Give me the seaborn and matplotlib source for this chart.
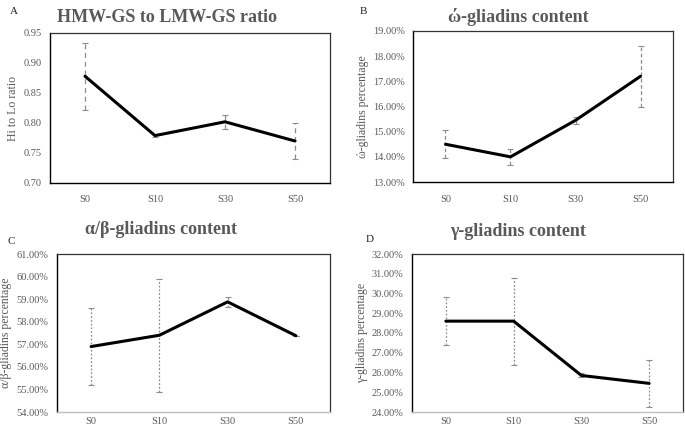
import numpy as np
import pandas as pd
import matplotlib
matplotlib.use("Agg")
import matplotlib.pyplot as plt
import seaborn as sns
from matplotlib.ticker import PercentFormatter

# Datos
muestras = ["S0", "S10", "S30", "S50"]

ratio_media = [0.878, 0.779, 0.802, 0.770]
ratio_err = [0.056, 0.003, 0.012, 0.030]

omega_media = [14.50, 14.00, 15.45, 17.20]
omega_err = [0.55, 0.33, 0.15, 1.22]

alfa_media = [56.90, 57.40, 58.88, 57.38]
alfa_err = [1.70, 2.50, 0.22, 0.0]

gamma_media = [28.60, 28.60, 25.85, 25.45]
gamma_err = [1.20, 2.20, 0.10, 1.20]

sns.set_style("white")
plt.rcParams["font.family"] = ["Liberation Serif", "DejaVu Serif"]

gris = "#595959"

fig = plt.figure(figsize=(6.85, 4.28), dpi=100)
W, H = 685, 428


def ejes(x0, y0, x1, y1):
    return fig.add_axes([x0 / W, 1 - y1 / H, (x1 - x0) / W, (y1 - y0) / H])


paneles = [
    dict(caja=(50, 33, 330, 183), media=ratio_media, err=ratio_err, lim=(0.70, 0.95), paso=0.05,
         ylabel="Hi to Lo ratio", titulo="HMW-GS to LMW-GS ratio", tpos=(167, 18),
         letra="A", lpos=(10, 12), pct=False, estilo=(0, (4, 3)), xpad=9, abajo="black"),
    dict(caja=(413, 31, 673, 182), media=omega_media, err=omega_err, lim=(13, 19), paso=1,
         ylabel="ώ-gliadins percentage", titulo="ώ-gliadins content", tpos=(518, 17),
         letra="B", lpos=(360, 12), pct=True, estilo=(0, (3, 2)), xpad=9, abajo="black"),
    dict(caja=(57, 254, 330, 412), media=alfa_media, err=alfa_err, lim=(54, 61), paso=1,
         ylabel="α/β-gliadins percentage", titulo="α/β-gliadins content", tpos=(161, 230),
         letra="C", lpos=(8, 241), pct=True, estilo=(0, (1.5, 1.5)), xpad=3.5, abajo="#bfbfbf"),
    dict(caja=(412, 254, 683, 412), media=gamma_media, err=gamma_err, lim=(24, 32), paso=1,
         ylabel="γ-gliadins percentage", titulo="γ-gliadins content", tpos=(518, 231),
         letra="D", lpos=(366, 239), pct=True, estilo=(0, (1.5, 1.5)), xpad=3.5, abajo="#bfbfbf"),
]

for p in paneles:
    ax = ejes(*p["caja"])
    df = pd.DataFrame({"muestra": muestras, "valor": p["media"]})
    sns.lineplot(data=df, x="muestra", y="valor", ax=ax, color="black", linewidth=2.2)
    eb = ax.errorbar(np.arange(len(muestras)), p["media"], yerr=p["err"], fmt="none",
                     ecolor="#8c8c8c", elinewidth=0.9, capsize=2.5, capthick=0.8, zorder=1)
    for lc in eb[2]:
        lc.set_linestyle(p["estilo"])
    ax.set_xlim(-0.5, 3.5)
    ax.set_ylim(*p["lim"])
    ax.set_yticks(np.arange(p["lim"][0], p["lim"][1] + p["paso"] / 2, p["paso"]))
    if p["pct"]:
        ax.yaxis.set_major_formatter(PercentFormatter(decimals=2))
    else:
        ax.yaxis.set_major_formatter(plt.FormatStrFormatter("%.2f"))
    ax.set_xlabel("")
    ax.set_ylabel(p["ylabel"], fontsize=8.5, color=gris, labelpad=3)
    ax.tick_params(axis="both", labelsize=7.5, colors=gris, length=0, pad=6)
    ax.tick_params(axis="x", pad=p["xpad"])
    ax.spines["left"].set_color("black")
    ax.spines["left"].set_linewidth(1.0)
    ax.spines["bottom"].set_color(p["abajo"])
    ax.spines["bottom"].set_linewidth(1.0)
    for s in ["top", "right"]:
        ax.spines[s].set_color("#333333")
        ax.spines[s].set_linewidth(0.9)
    fig.text(p["tpos"][0] / W, 1 - p["tpos"][1] / H, p["titulo"], ha="center", va="center",
             fontsize=13, fontweight="bold", color=gris)
    fig.text(p["lpos"][0] / W, 1 - p["lpos"][1] / H, p["letra"], ha="left", va="center",
             fontsize=8, color="#222222")

fig.savefig("out.png", dpi=100)
